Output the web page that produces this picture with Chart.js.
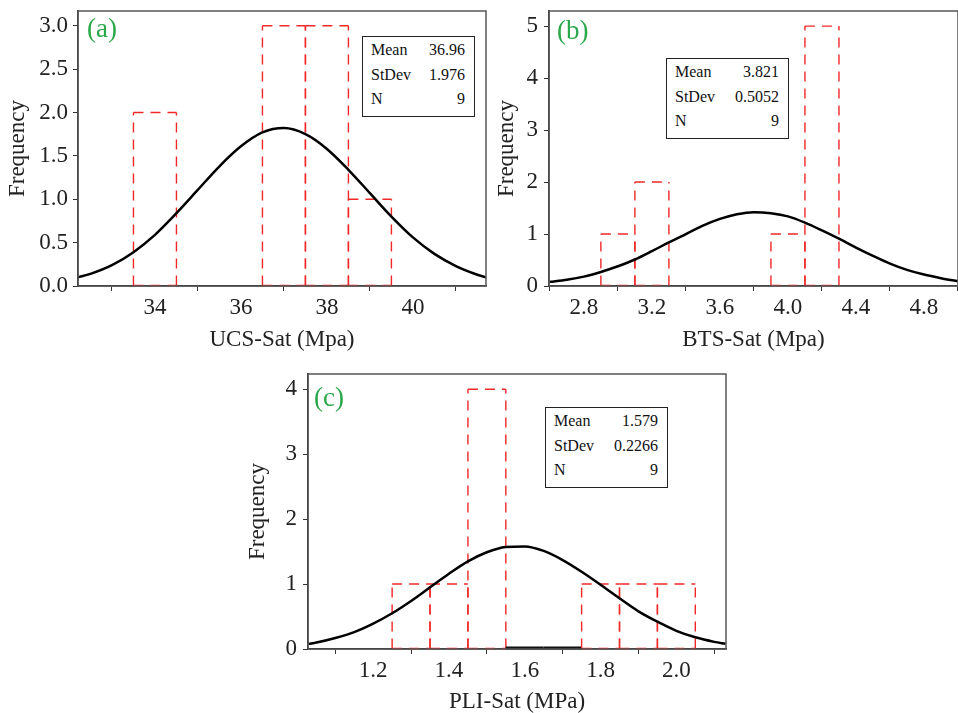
<!DOCTYPE html>
<html>
<head>
<meta charset="utf-8">
<script src="https://cdn.jsdelivr.net/npm/chart.js@4.4.1/dist/chart.umd.min.js"></script>
<style>
    body { margin: 0; background: #fff; width: 958px; height: 713px; overflow: hidden; position: relative; font-family: "Liberation Serif", serif; }
    canvas { position: absolute; }
    .stats { position: absolute; border: 1.5px solid #222; background: #fff; box-sizing: border-box; font-size: 16px; color: #111; }
    .stats div { position: absolute; left: 8px; right: 9px; height: 20px; line-height: 20px; }
    .stats span { float: right; }
    .tag { position: absolute; color: #2aa84a; font-size: 27px; line-height: 27px; }
</style>
</head>
<body>
<canvas id="chartA" width="490" height="355" style="left:0;top:0"></canvas>
<canvas id="chartB" width="468" height="355" style="left:490px;top:0"></canvas>
<canvas id="chartC" width="490" height="350" style="left:240px;top:363px"></canvas>

<div class="tag" style="left:87px;top:15px">(a)</div>
<div class="tag" style="left:557px;top:17px">(b)</div>
<div class="tag" style="left:314px;top:384px">(c)</div>

<div class="stats" style="left:362px;top:36px;width:113px;height:81px">
    <div style="top:3px">Mean<span>36.96</span></div>
    <div style="top:28px">StDev<span>1.976</span></div>
    <div style="top:52px">N<span>9</span></div>
</div>
<div class="stats" style="left:666px;top:58px;width:123px;height:81px">
    <div style="top:3px">Mean<span>3.821</span></div>
    <div style="top:28px">StDev<span>0.5052</span></div>
    <div style="top:52px">N<span>9</span></div>
</div>
<div class="stats" style="left:545px;top:407px;width:123px;height:81px">
    <div style="top:3px">Mean<span>1.579</span></div>
    <div style="top:28px">StDev<span>0.2266</span></div>
    <div style="top:52px">N<span>9</span></div>
</div>

<script>
//################# Data #################
// (a) UCS-Sat: bin centres (width 1) and counts
const binsA = [34, 37, 38, 39];
const countsA = [2, 3, 3, 1];
const curveXA = [32.2, 32.5, 33, 33.5, 34, 34.5, 35, 35.5, 36, 36.5, 37, 37.5, 38, 38.5, 39, 39.5, 40, 40.5, 41, 41.5, 41.7];
const curveYA = [0.10, 0.14, 0.24, 0.39, 0.59, 0.84, 1.11, 1.38, 1.61, 1.77, 1.82, 1.75, 1.58, 1.34, 1.07, 0.80, 0.56, 0.37, 0.23, 0.13, 0.10];
const xTicksA = [34, 36, 38, 40];
const yTicksA = [0, 0.5, 1, 1.5, 2, 2.5, 3];

// (b) BTS-Sat: bin centres (width 0.2) and counts
const binsB = [3.0, 3.2, 4.0, 4.2];
const countsB = [1, 2, 1, 5];
const curveXB = [2.6, 2.7, 2.8, 2.9, 3.0, 3.1, 3.2, 3.3, 3.4, 3.5, 3.6, 3.7, 3.8, 3.9, 4.0, 4.1, 4.2, 4.3, 4.4, 4.5, 4.6, 4.7, 4.8, 4.9, 5.0];
const curveYB = [0.08, 0.12, 0.18, 0.27, 0.38, 0.51, 0.67, 0.84, 1.00, 1.16, 1.29, 1.38, 1.42, 1.40, 1.34, 1.22, 1.07, 0.91, 0.74, 0.58, 0.43, 0.31, 0.22, 0.15, 0.09];
const xTicksB = [2.8, 3.2, 3.6, 4.0, 4.4, 4.8];
const yTicksB = [0, 1, 2, 3, 4, 5];

// (c) PLI-Sat: bin centres (width 0.1) and counts
const binsC = [1.3, 1.4, 1.5, 1.6, 1.7, 1.8, 1.9, 2.0];
const countsC = [1, 1, 4, 0, 0, 1, 1, 1];
const curveXC = [1.03, 1.05, 1.1, 1.15, 1.2, 1.25, 1.3, 1.35, 1.4, 1.45, 1.5, 1.55, 1.6, 1.65, 1.7, 1.75, 1.8, 1.85, 1.9, 1.95, 2.0, 2.05, 2.1, 2.13];
const curveYC = [0.08, 0.10, 0.17, 0.26, 0.39, 0.55, 0.74, 0.95, 1.16, 1.35, 1.49, 1.57, 1.58, 1.51, 1.37, 1.19, 0.99, 0.78, 0.58, 0.42, 0.28, 0.18, 0.11, 0.08];
const xTicksC = [1.2, 1.4, 1.6, 1.8, 2.0];
const yTicksC = [0, 1, 2, 3, 4];

const SERIF = "'Liberation Serif', 'Times New Roman', serif";

//################# Plugins #################
// dashed outline for each histogram bar, using the bar element positions
const dashedBars = {
    id: 'dashedBars',
    beforeDatasetsDraw(chart) {
        const ctx = chart.ctx;
        const meta = chart.getDatasetMeta(0);
        const seg = (x1, y1, x2, y2) => {
            ctx.beginPath();
            ctx.moveTo(x1, y1);
            ctx.lineTo(x2, y2);
            ctx.stroke();
        };
        ctx.save();
        meta.data.forEach(bar => {
            const p = bar.getProps(['x', 'y', 'base', 'width'], true);
            const l = p.x - p.width / 2;
            const r = p.x + p.width / 2;
            if (Math.abs(p.base - p.y) < 0.5) {
                // empty bin drawn as a black segment on the baseline
                ctx.setLineDash([]);
                ctx.strokeStyle = '#111';
                ctx.lineWidth = 3;
                seg(l, p.base - 1, r, p.base - 1);
                return;
            }
            ctx.setLineDash([10, 7]);
            ctx.strokeStyle = '#f02828';
            ctx.lineWidth = 1.4;
            // sides start at the baseline so shared edges keep the same dash phase
            seg(l, p.base, l, p.y);
            seg(r, p.base, r, p.y);
            seg(l, p.y, r, p.y);
            seg(l, p.base, r, p.base);
        });
        ctx.restore();
    }
};

// box around the plot area
const frame = {
    id: 'frame',
    afterDraw(chart) {
        const {ctx, chartArea: a} = chart;
        ctx.save();
        ctx.strokeStyle = '#555';
        ctx.lineWidth = 1.5;
        ctx.strokeRect(a.left, a.top, a.right - a.left, a.bottom - a.top);
        ctx.restore();
    }
};

//################# Function to create one histogram panel #################
function makeHist(id, p) {
    return new Chart(document.getElementById(id), {
        type: 'bar',
        data: {
            datasets: [
                {
                    data: p.bins.map((b, i) => ({x: b, y: p.counts[i]})),
                    backgroundColor: 'rgba(0,0,0,0)',
                    borderWidth: 0,
                    categoryPercentage: 1,
                    barPercentage: 1,
                },
                {
                    type: 'line',
                    data: p.cx.map((x, i) => ({x: x, y: p.cy[i]})),
                    borderColor: '#000',
                    borderWidth: 2.5,
                    pointRadius: 0,
                    fill: false,
                    cubicInterpolationMode: 'monotone',
                },
            ],
        },
        options: {
            responsive: false,
            animation: false,
            devicePixelRatio: 1,
            layout: { padding: p.pad },
            plugins: { legend: { display: false }, tooltip: { enabled: false } },
            scales: {
                x: {
                    type: 'linear',
                    offset: false,
                    min: p.xmin,
                    max: p.xmax,
                    afterBuildTicks: s => { s.ticks = p.xt.map(v => ({value: v})); },
                    afterFit: s => { s.height = p.xh; s.paddingLeft = 0; s.paddingRight = 0; },
                    grid: { drawOnChartArea: false, tickLength: 5, color: '#333' },
                    border: { color: '#222', width: 1.5 },
                    ticks: {
                        font: { family: SERIF, size: 23 },
                        color: '#222',
                        padding: 3,
                        maxRotation: 0,
                        callback: v => v.toFixed(p.xd),
                    },
                    title: {
                        display: true,
                        text: p.xtitle,
                        font: { family: SERIF, size: 23, lineHeight: 1 },
                        color: '#222',
                        padding: { top: 0, bottom: p.xtp },
                    },
                },
                y: {
                    min: 0,
                    max: p.ymax,
                    afterBuildTicks: s => { s.ticks = p.yt.map(v => ({value: v})); },
                    afterFit: s => { s.width = p.yw; s.paddingTop = 0; s.paddingBottom = 0; },
                    grid: { drawOnChartArea: false, tickLength: 5, color: '#333' },
                    border: { color: '#222', width: 1.5 },
                    ticks: {
                        font: { family: SERIF, size: 23 },
                        color: '#222',
                        padding: p.ytp,
                        callback: v => v.toFixed(p.yd),
                    },
                    title: {
                        display: true,
                        text: 'Frequency',
                        font: { family: SERIF, size: 23, lineHeight: 1 },
                        color: '#222',
                        padding: { top: p.ytitle, bottom: 0 },
                    },
                },
            },
        },
        plugins: [dashedBars, frame],
    });
}

//################# Build the three panels #################
makeHist('chartA', {
    bins: binsA, counts: countsA, cx: curveXA, cy: curveYA,
    xmin: 32.21, xmax: 41.7, xt: xTicksA, xd: 0,
    ymax: 3.17, yt: yTicksA, yd: 1,
    xtitle: 'UCS-Sat (Mpa)', xh: 69, xtp: 3.5,
    yw: 78, ytp: 5, ytitle: 6.5,
    pad: { top: 11, right: 4, left: 0, bottom: 0 },
});

makeHist('chartB', {
    bins: binsB, counts: countsB, cx: curveXB, cy: curveYB,
    xmin: 2.595, xmax: 5.0, xt: xTicksB, xd: 1,
    ymax: 5.29, yt: yTicksB, yd: 0,
    xtitle: 'BTS-Sat (Mpa)', xh: 69, xtp: 3.5,
    yw: 59, ytp: 6, ytitle: 5.5,
    pad: { top: 11, right: 0, left: 0, bottom: 0 },
});

makeHist('chartC', {
    bins: binsC, counts: countsC, cx: curveXC, cy: curveYC,
    xmin: 1.028, xmax: 2.131, xt: xTicksC, xd: 1,
    ymax: 4.235, yt: yTicksC, yd: 0,
    xtitle: 'PLI-Sat (MPa)', xh: 64, xtp: 0,
    yw: 68, ytp: 6, ytitle: 6.5,
    pad: { top: 11, right: 4, left: 0, bottom: 0 },
});
</script>
</body>
</html>
